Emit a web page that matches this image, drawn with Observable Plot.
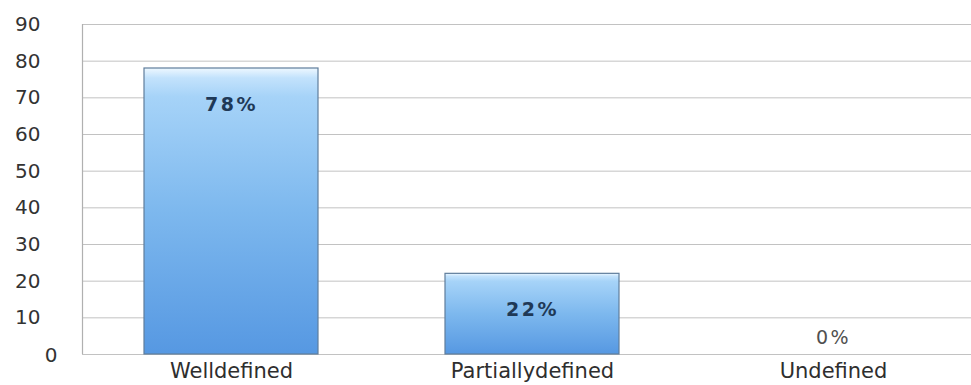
<!DOCTYPE html>
<html>
<head>
<meta charset="utf-8">
<script src="https://cdn.jsdelivr.net/npm/d3@7"></script>
<script src="https://cdn.jsdelivr.net/npm/@observablehq/plot@0.6"></script>
<style>
  html, body { margin: 0; padding: 0; background: #fff; }
  #chart svg { display: block; }
  #chart text.pct { letter-spacing: 2.5px; }
</style>
</head>
<body>
<div id="chart"></div>
<script>
// How clearly each item is defined (share of responses, %)
const categories = ["Welldefined", "Partiallydefined", "Undefined"];
const shares = [78, 22, 0];
const yTicks = [0, 10, 20, 30, 40, 50, 60, 70, 80, 90];

const rows = categories.map((name, i) => ({name, value: shares[i]}));
const labelOf = d => `${d.value}%`;

const chart = Plot.plot({
  width: 971,
  height: 385,
  marginLeft: 82,
  marginRight: 0,
  marginTop: 24,
  marginBottom: 31,
  style: {fontFamily: "DejaVu Sans", fontSize: "21px", color: "#2e2e2e", background: "#fff"},
  x: {
    domain: categories,
    range: [80, 983],
    paddingInner: 0.422,
    paddingOuter: 0.211,
    tickSize: 0,
    tickPadding: 9,
    label: null
  },
  y: {domain: [0, 90], axis: null},
  marks: [
    // horizontal gridlines across the whole frame
    Plot.ruleY(yTicks, {stroke: "#c2c2c2", strokeWidth: 1}),
    // value axis labels (the zero sits a little further right)
    Plot.text(yTicks.filter(t => t !== 0), {
      y: d => d, text: d => String(d), frameAnchor: "left", textAnchor: "end",
      dx: -42, fontSize: 20, fill: "#333"
    }),
    Plot.text(yTicks.filter(t => t === 0), {
      y: d => d, text: d => String(d), frameAnchor: "left", textAnchor: "end",
      dx: -25, dy: 1, fontSize: 20, fill: "#333"
    }),
    // bars
    Plot.barY(rows.filter(d => d.value > 0), {
      x: "name", y: "value",
      fill: "url(#barFill)", stroke: "#5f7d9c", strokeWidth: 1.2
    }),
    // value labels inside the bars
    Plot.text(rows.filter(d => d.value > 0), {
      x: "name", y: "value", text: labelOf,
      dy: 36, fontSize: 19, fontWeight: "bold", fill: "#1f3957"
    }),
    // value label for an empty bar, placed just above the baseline
    Plot.text(rows.filter(d => d.value === 0), {
      x: "name", y: "value", text: labelOf,
      dy: -17, fontSize: 19, fill: "#505050"
    })
  ]
});

// gradient used by the bars
const defs = d3.select(chart).insert("defs", ":first-child");
const grad = defs.append("linearGradient")
  .attr("id", "barFill").attr("x1", 0).attr("y1", 0).attr("x2", 0).attr("y2", 1);
[
  [0, "#eef8ff"],
  [0.035, "#c2e2fc"],
  [0.1, "#a6d3f8"],
  [0.5, "#7db8ee"],
  [1, "#5698e2"]
].forEach(([o, c]) => grad.append("stop").attr("offset", o).attr("stop-color", c));

// wider spacing for the percentage labels
d3.select(chart).selectAll("text")
  .filter(function() { return /%$/.test(this.textContent); })
  .classed("pct", true);

// value axis line
const y = chart.scale("y");
d3.select(chart).append("line")
  .attr("x1", 82.5).attr("x2", 82.5)
  .attr("y1", y.apply(90)).attr("y2", y.apply(0))
  .attr("stroke", "#b0b0b0").attr("stroke-width", 1.2);

document.getElementById("chart").append(chart);
</script>
</body>
</html>
